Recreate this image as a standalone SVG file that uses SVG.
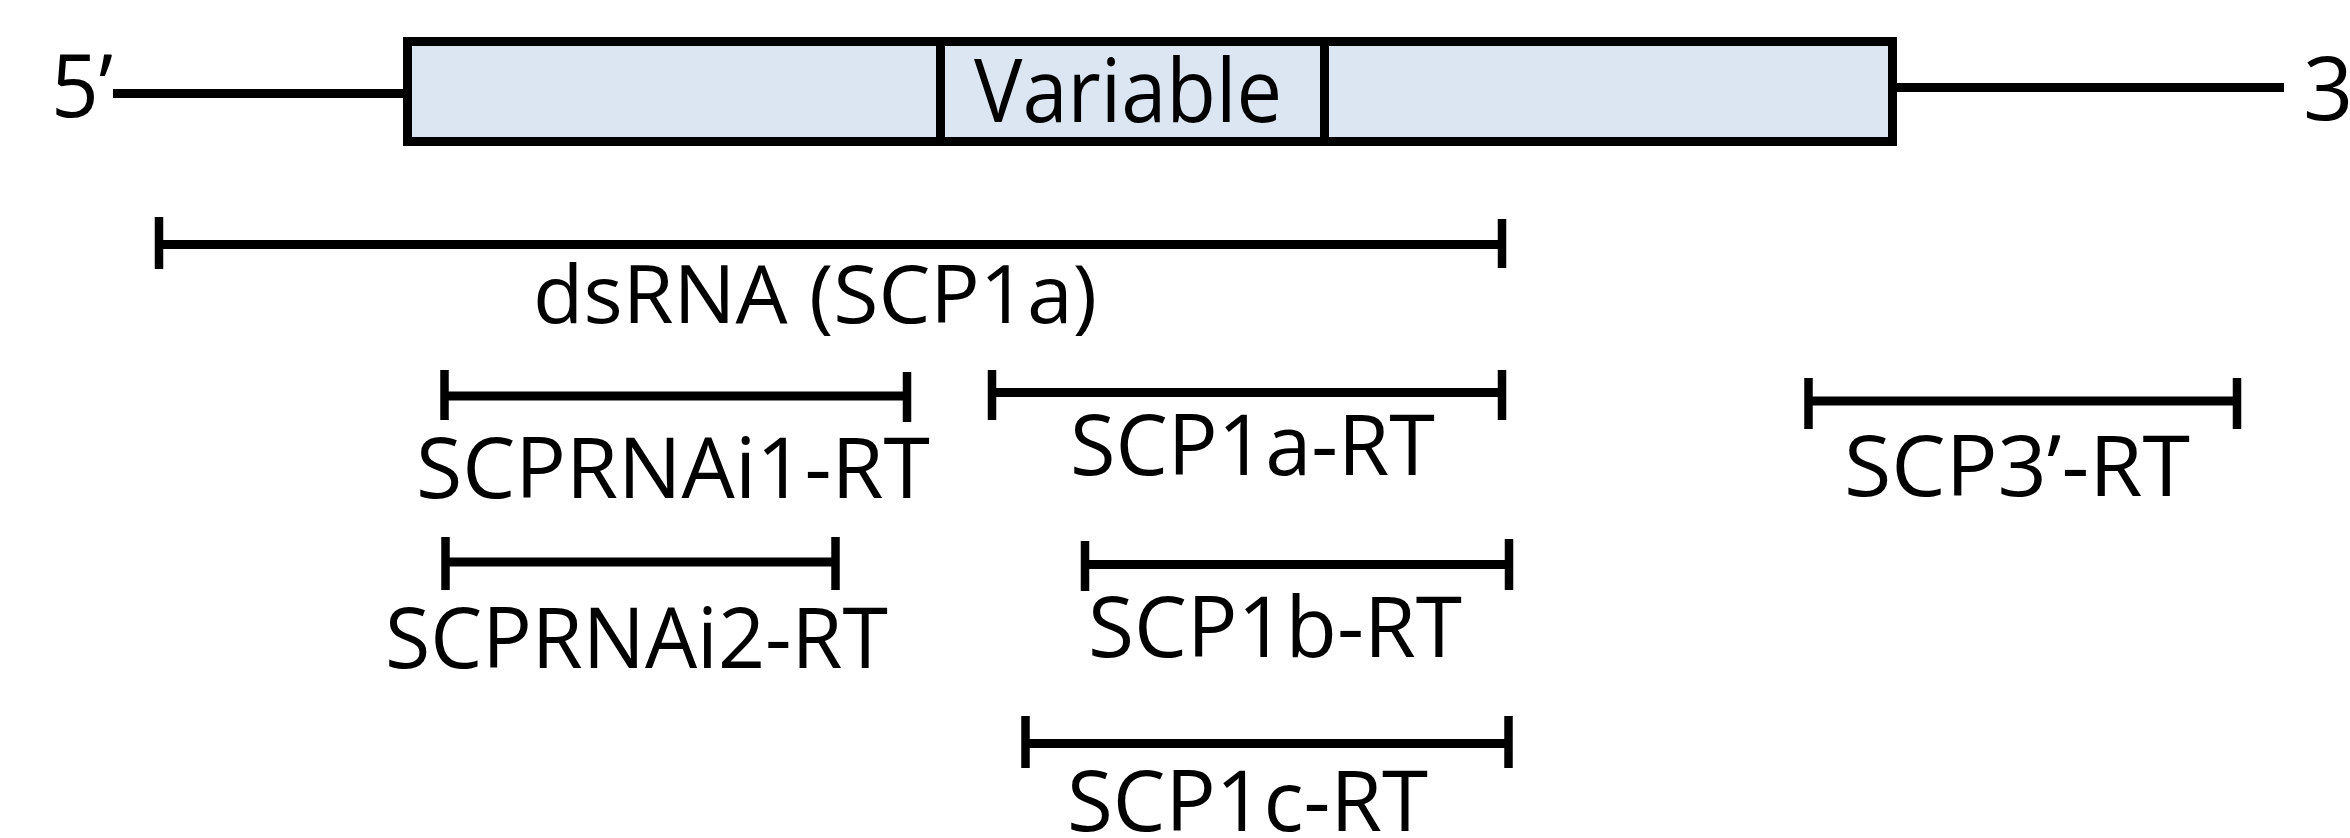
<svg xmlns="http://www.w3.org/2000/svg" width="2350" height="838" viewBox="0 0 2350 838">
<style>
.t{font-family:"Open Sans","Noto Sans","DejaVu Sans",sans-serif;fill:#000;font-size:84px}
.ln{stroke:#000;stroke-width:9;fill:none}
.tk{stroke:#000;stroke-width:8.5;fill:none}
</style>
<rect x="0" y="0" width="2350" height="838" fill="#fff"/>
<g id="gene">
<line class="ln" x1="113" y1="93.5" x2="404" y2="93.5"/>
<line class="ln" x1="1896" y1="87.5" x2="2284" y2="87.5"/>
<rect x="407.5" y="41.5" width="1485" height="100" fill="#DCE6F2" stroke="#000" stroke-width="9"/>
<line class="ln" x1="940.5" y1="45" x2="940.5" y2="138"/>
<line class="ln" x1="1324.5" y1="45" x2="1324.5" y2="138"/>
<text class="t" x="51" y="117" style="font-size:88px" textLength="62" lengthAdjust="spacingAndGlyphs">5’</text>
<text class="t" x="974" y="122" style="font-size:88px" textLength="308" lengthAdjust="spacingAndGlyphs">Variable</text>
<text class="t" x="2303" y="120" style="font-size:88px">3’</text>
</g>
<g id="connectors">
<g id="dsRNA">
<line class="ln" x1="159" y1="244.5" x2="1502" y2="244.5"/>
<line class="tk" x1="159" y1="217" x2="159" y2="269"/>
<line class="tk" x1="1502" y1="219" x2="1502" y2="268"/>
</g>
<g id="SCPRNAi1">
<line class="ln" x1="444.5" y1="396" x2="907" y2="396"/>
<line class="tk" x1="444.5" y1="370" x2="444.5" y2="420"/>
<line class="tk" x1="907" y1="372" x2="907" y2="422"/>
</g>
<g id="SCP1a">
<line class="ln" x1="992" y1="392.5" x2="1502" y2="392.5"/>
<line class="tk" x1="992" y1="370" x2="992" y2="420"/>
<line class="tk" x1="1502" y1="370" x2="1502" y2="420"/>
</g>
<g id="SCP3">
<line class="ln" x1="1808.5" y1="401" x2="2237" y2="401"/>
<line class="tk" x1="1808.5" y1="378" x2="1808.5" y2="429"/>
<line class="tk" x1="2237" y1="378" x2="2237" y2="429"/>
</g>
<g id="SCPRNAi2">
<line class="ln" x1="445.5" y1="562" x2="835.5" y2="562"/>
<line class="tk" x1="445.5" y1="537" x2="445.5" y2="590"/>
<line class="tk" x1="835.5" y1="537" x2="835.5" y2="590"/>
</g>
<g id="SCP1b">
<line class="ln" x1="1085" y1="564.5" x2="1509" y2="564.5"/>
<line class="tk" x1="1085" y1="541" x2="1085" y2="591"/>
<line class="tk" x1="1509" y1="539" x2="1509" y2="590"/>
</g>
<g id="SCP1c">
<line class="ln" x1="1025.5" y1="743.5" x2="1508.5" y2="743.5"/>
<line class="tk" x1="1025.5" y1="716" x2="1025.5" y2="768"/>
<line class="tk" x1="1508.5" y1="716" x2="1508.5" y2="768"/>
</g>
</g>
<g id="labels">
<text class="t" x="533" y="323" style="font-size:80px" textLength="564" lengthAdjust="spacingAndGlyphs">dsRNA (SCP1a)</text>
<text class="t" x="416" y="498" textLength="514" lengthAdjust="spacingAndGlyphs">SCPRNAi1-RT</text>
<text class="t" x="1070" y="475" textLength="365" lengthAdjust="spacingAndGlyphs">SCP1a-RT</text>
<text class="t" x="1844" y="496" textLength="346" lengthAdjust="spacingAndGlyphs">SCP3’-RT</text>
<text class="t" x="385" y="668" textLength="503" lengthAdjust="spacingAndGlyphs">SCPRNAi2-RT</text>
<text class="t" x="1088" y="657" textLength="374" lengthAdjust="spacingAndGlyphs">SCP1b-RT</text>
<text class="t" x="1067" y="831" textLength="361" lengthAdjust="spacingAndGlyphs">SCP1c-RT</text>
</g>
</svg>
